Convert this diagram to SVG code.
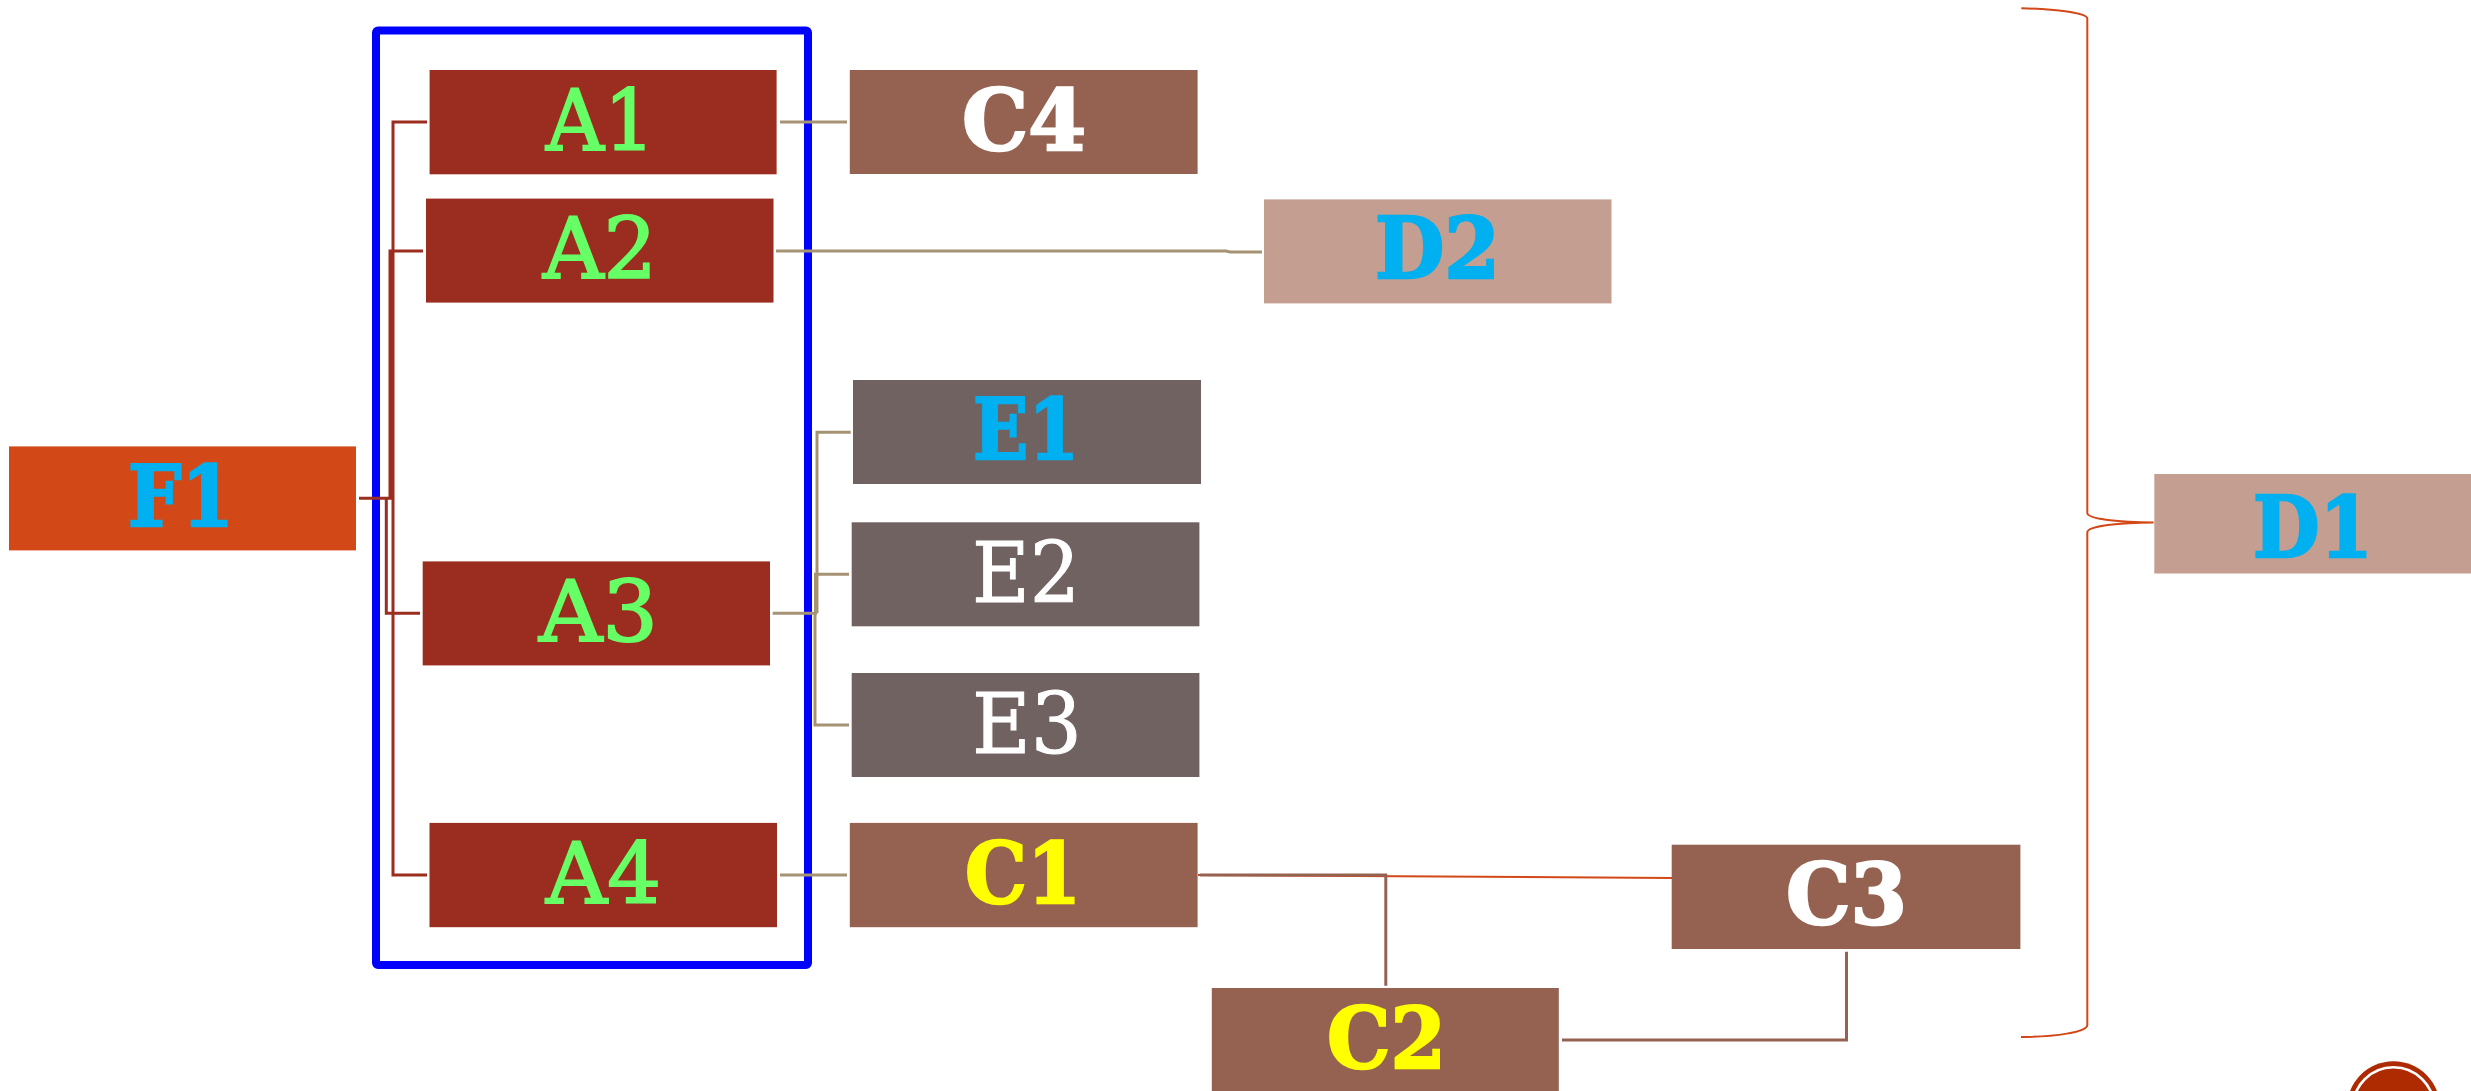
<svg xmlns="http://www.w3.org/2000/svg" width="2471" height="1091" viewBox="0 0 2471 1091">
<style>
text{font-family:"DejaVu Serif","Liberation Serif",serif;font-size:84px;text-anchor:start;stroke-width:2;paint-order:stroke}
.b{font-weight:bold;stroke-width:2.5}
.g{fill:#66FF66;stroke:#66FF66}.c{fill:#00B0F0;stroke:#00B0F0}.w{fill:#FFFFFF;stroke:#FFFFFF}.y{fill:#FFFF00;stroke:#FFFF00}
.ra{fill:#9A2D1F}.rf{fill:#D34817}.rc{fill:#956251}.re{fill:#6F6260}.rd{fill:#C49E90}
.l{fill:none;stroke-linejoin:miter}
.red{stroke:#9B2D1F;stroke-width:3}
.tan{stroke:#A59373;stroke-width:3}
.br{stroke:#956251;stroke-width:3}
.or{stroke:#D34817;stroke-width:2}
.n{stroke-width:1}
</style>
<rect width="2471" height="1091" fill="#FFFFFF"/>
<g id="decor">
<circle cx="2393.5" cy="1108" r="46.7" fill="#AE2A00"/>
<circle cx="2393.5" cy="1108" r="40.7" fill="none" stroke="#FFFFFF" stroke-width="2.6"/>
</g>
<g id="group-box"><rect x="376" y="30.5" width="432" height="934.5" rx="2" fill="none" stroke="#0000FF" stroke-width="8" stroke-linejoin="round"/></g>
<g id="connectors">
<path class="l red" d="M359 498.3H393M393 498.3V122H427M393 498.3V875H427M390 498.3V251H423M386.3 498.3V613.3H420"/>
<path class="l tan" d="M780 122H847M776 251H1226L1230 252H1262M772.7 613.3H817M817 613.3V432.3H850.7M815.5 613.3V574.3H849M815 613.3V725H849M780 875H847"/>
<path class="l or" d="M1198 875L1672 878"/>
<path class="l br" d="M1200 875H1385.8V985.7M1562 1040H1846.5V951.7"/>
<path class="l or" d="M2021.3 8.3C2055 9 2087.3 13 2087.3 18.6V513C2087.3 519 2120 522.5 2153.7 522.5C2120 522.5 2087.3 526 2087.3 532.4V1025C2087.3 1032 2055 1037 2021 1037"/>
</g>
<g id="F1"><rect class="rf" x="9" y="446.4" width="347" height="104"/><text class="b c" x="128" y="526" textLength="106" lengthAdjust="spacingAndGlyphs">F1</text></g>
<g id="A1"><rect class="ra" x="429.6" y="70" width="347" height="104.3"/><text class="g" x="546" y="150" textLength="109" lengthAdjust="spacingAndGlyphs">A1</text></g>
<g id="A2"><rect class="ra" x="426" y="198.6" width="347.5" height="104"/><text class="g" x="543" y="278" textLength="114" lengthAdjust="spacingAndGlyphs">A2</text></g>
<g id="A3"><rect class="ra" x="422.7" y="561.4" width="347.3" height="104"/><text class="g" x="539" y="641" textLength="119" lengthAdjust="spacingAndGlyphs">A3</text></g>
<g id="A4"><rect class="ra" x="429.5" y="822.9" width="347.5" height="104.3"/><text class="g" x="546" y="902.6" textLength="115" lengthAdjust="spacingAndGlyphs">A4</text></g>
<g id="C4"><rect class="rc" x="849.8" y="70" width="347.8" height="104"/><text class="b w" x="962" y="150" textLength="124" lengthAdjust="spacingAndGlyphs">C4</text></g>
<g id="D2"><rect class="rd" x="1264" y="199.4" width="347.5" height="104"/><text class="b c" x="1375" y="278" textLength="125" lengthAdjust="spacingAndGlyphs">D2</text></g>
<g id="E1"><rect class="re" x="853" y="380" width="348" height="104"/><text class="b c" x="973" y="458.6" textLength="106" lengthAdjust="spacingAndGlyphs">E1</text></g>
<g id="E2"><rect class="re" x="851.7" y="522.3" width="347.7" height="104"/><text class="w n" x="972" y="602" textLength="108" lengthAdjust="spacingAndGlyphs">E2</text></g>
<g id="E3"><rect class="re" x="851.7" y="673" width="347.7" height="104"/><text class="w n" x="972" y="752.6" textLength="110" lengthAdjust="spacingAndGlyphs">E3</text></g>
<g id="C1"><rect class="rc" x="849.8" y="822.9" width="347.8" height="104.3"/><text class="b y" x="965" y="902.6" textLength="116" lengthAdjust="spacingAndGlyphs">C1</text></g>
<g id="C2"><rect class="rc" x="1211.8" y="988" width="347" height="104"/><text class="b y" x="1327" y="1067.7" textLength="119" lengthAdjust="spacingAndGlyphs">C2</text></g>
<g id="C3"><rect class="rc" x="1671.7" y="844.7" width="348.7" height="104.3"/><text class="b w" x="1786" y="924" textLength="121" lengthAdjust="spacingAndGlyphs">C3</text></g>
<g id="D1"><rect class="rd" x="2154.3" y="474" width="316.7" height="99.5"/><text class="b c" x="2253" y="557" textLength="120" lengthAdjust="spacingAndGlyphs">D1</text></g>
</svg>
